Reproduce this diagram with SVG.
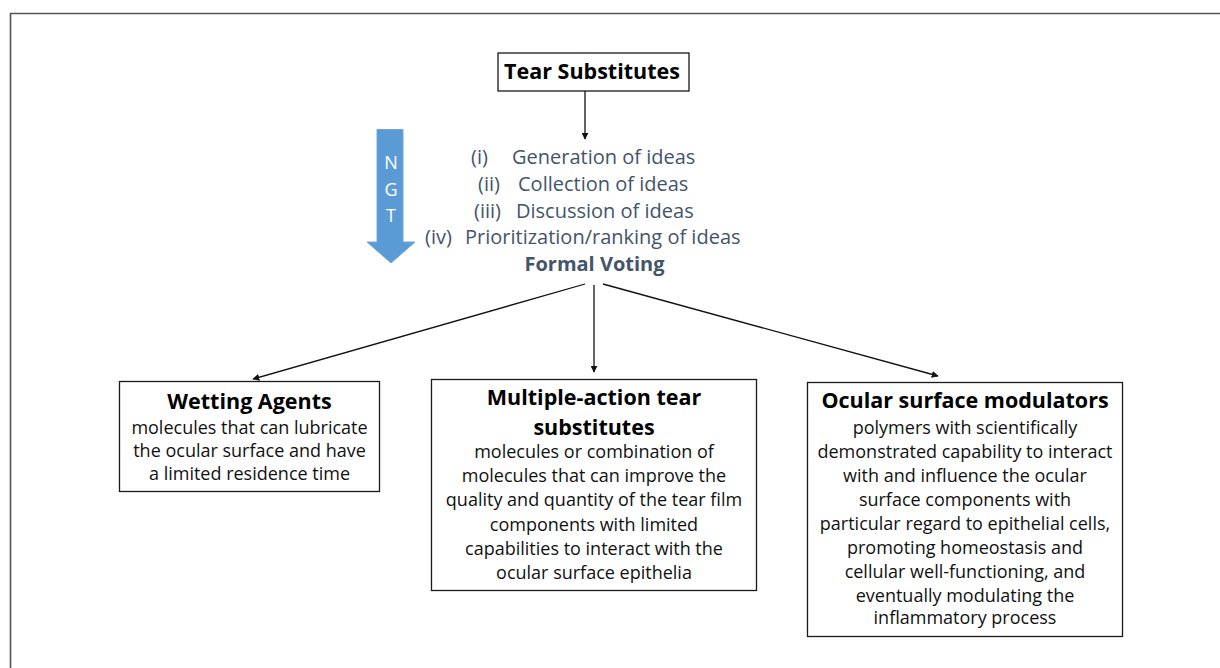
<svg xmlns="http://www.w3.org/2000/svg" width="1220" height="668" viewBox="0 0 1220 668">
<defs>
<style>
.box{fill:#fff;stroke:#1a1a1a;stroke-width:1.3}
.t{font-family:"Open Sans","Liberation Sans",sans-serif;text-anchor:middle}
.title{font-size:21.5px;font-weight:bold;fill:#000}
.body{font-size:18px;fill:#111}
.list{font-family:"Open Sans","Liberation Sans",sans-serif;font-size:20px;fill:#44546A}
.conn{stroke:#111;stroke-width:1.3;fill:none;marker-end:url(#ah)}
</style>
<marker id="ah" viewBox="0 0 10 10" refX="9" refY="5" markerWidth="7" markerHeight="7" orient="auto" markerUnits="userSpaceOnUse">
<path d="M0,0 L10,5 L0,10 z" fill="#111"/>
</marker>
</defs>
<rect width="1220" height="668" fill="#fff"/>
<path d="M10.5,668 V13.5 H1220" fill="none" stroke="#555" stroke-width="1.6"/>

<g id="tear-substitutes">
<rect class="box" x="498" y="53" width="191" height="38"/>
<text class="t title" x="592" y="79">Tear Substitutes</text>
</g>

<g id="ngt-steps">
<text class="list" x="471" y="164">(i)</text><text class="list" x="512" y="164">Generation of ideas</text>
<text class="list" x="478" y="191">(ii)</text><text class="list" x="518" y="191">Collection of ideas</text>
<text class="list" x="474" y="218">(iii)</text><text class="list" x="516" y="218">Discussion of ideas</text>
<text class="list" x="425" y="244">(iv)</text><text class="list" x="465" y="244">Prioritization/ranking of ideas</text>
<text class="list" x="594.5" y="271" text-anchor="middle" font-weight="bold" font-size="19">Formal Voting</text>
</g>

<g id="ngt-arrow">
<polygon points="377,129.5 403,129.5 403,242 415,242 391,263 367,242 377,242" fill="#5B9BD5" stroke="#6FA6DA" stroke-width="1"/>
<text class="t" x="391" y="169" font-size="18" fill="#fff">N</text>
<text class="t" x="391" y="196" font-size="18" fill="#fff">G</text>
<text class="t" x="391" y="222" font-size="18" fill="#fff">T</text>
</g>

<g id="connectors">
<line class="conn" x1="585" y1="91" x2="585" y2="139"/>
<line class="conn" x1="585" y1="284" x2="253" y2="379"/>
<line class="conn" x1="594" y1="285" x2="594" y2="372"/>
<line class="conn" x1="603" y1="284" x2="938" y2="376"/>
</g>

<g id="wetting-agents">
<rect class="box" x="119.5" y="381.5" width="260" height="110"/>
<text class="t title" x="249.5" y="409">Wetting Agents</text>
<text class="t body" x="249.5" y="434">molecules that can lubricate</text>
<text class="t body" x="249.5" y="457">the ocular surface and have</text>
<text class="t body" x="249.5" y="480">a limited residence  time</text>
</g>

<g id="multiple-action">
<rect class="box" x="431.5" y="379.5" width="325" height="211"/>
<text class="t title" x="594" y="405">Multiple-action tear</text>
<text class="t title" x="594" y="435">substitutes</text>
<text class="t body" x="594" y="458">molecules or combination of</text>
<text class="t body" x="594" y="482">molecules that can improve the</text>
<text class="t body" x="594" y="506">quality and quantity of the tear film</text>
<text class="t body" x="594" y="531">components with limited</text>
<text class="t body" x="594" y="555">capabilities to interact with the</text>
<text class="t body" x="594" y="579">ocular surface epithelia</text>
</g>

<g id="ocular-surface-modulators">
<rect class="box" x="807.5" y="382.5" width="315" height="254"/>
<text class="t title" x="965" y="408">Ocular surface modulators</text>
<text class="t body" x="965" y="434">polymers with scientifically</text>
<text class="t body" x="965" y="458">demonstrated  capability to interact</text>
<text class="t body" x="965" y="482">with and influence the ocular</text>
<text class="t body" x="965" y="506">surface components with</text>
<text class="t body" x="965" y="530">particular regard to epithelial cells,</text>
<text class="t body" x="965" y="554">promoting homeostasis and</text>
<text class="t body" x="965" y="578">cellular well-functioning, and</text>
<text class="t body" x="965" y="602">eventually modulating the</text>
<text class="t body" x="965" y="624">inflammatory process</text>
</g>
</svg>
